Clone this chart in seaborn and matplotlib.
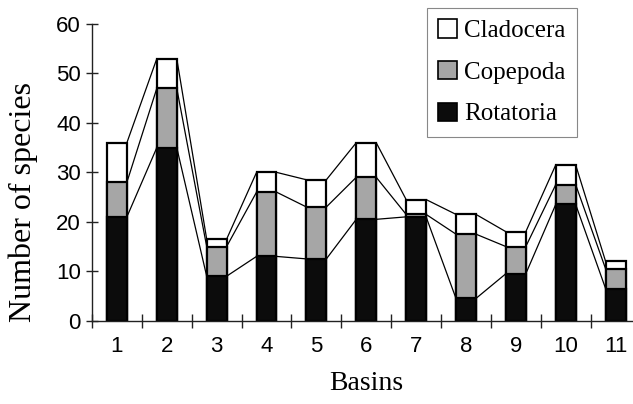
import matplotlib
matplotlib.use("Agg")
import matplotlib.pyplot as plt
from matplotlib.patches import Patch
import seaborn as sns
import pandas as pd
import numpy as np

basins = ["1", "2", "3", "4", "5", "6", "7", "8", "9", "10", "11"]
rotatoria = [21, 35, 9, 13, 12.5, 20.5, 21, 4.5, 9.5, 23.5, 6.5]
copepoda = [7, 12, 6, 13, 10.5, 8.5, 0.5, 13, 5.5, 4, 4]
cladocera = [8, 6, 1.5, 4, 5.5, 7, 3, 4, 3, 4, 1.5]
series_names = ["Cladocera", "Copepoda", "Rotatoria"]
series_colors = ["#ffffff", "#a6a6a6", "#0c0c0c"]
y_ticks = [0, 10, 20, 30, 40, 50, 60]

sns.set_style("white")
plt.rcParams["font.family"] = ["Liberation Sans", "DejaVu Sans"]
plt.rcParams["text.color"] = "black"
plt.rcParams["axes.labelcolor"] = "black"
plt.rcParams["xtick.color"] = "black"
plt.rcParams["ytick.color"] = "black"

df = pd.DataFrame({"Basin": basins, "Rotatoria": rotatoria,
                   "Copepoda": copepoda, "Cladocera": cladocera})
df["top_ro"] = df["Rotatoria"]
df["top_co"] = df["Rotatoria"] + df["Copepoda"]
df["top_cl"] = df["top_co"] + df["Cladocera"]

fig = plt.figure(figsize=(6.33, 4.04), dpi=100)
W, H = 633, 404
x0, y0, y60 = 92, 320.7, 24
ax = fig.add_axes([x0 / W, (H - y0) / H, 548.5 / W, (y0 - y60) / H])

bw = 0.4
layers = [("top_cl", series_colors[0]), ("top_co", series_colors[1]), ("top_ro", series_colors[2])]
for col, c in layers:
    sns.barplot(data=df, x="Basin", y=col, order=basins, color=c, width=bw,
                edgecolor="black", linewidth=1.6, saturation=1, errorbar=None, ax=ax)

# series lines between bar tops
xs = np.arange(len(basins))
for col, _ in layers:
    tops = df[col].to_numpy()
    for i in range(len(basins) - 1):
        ax.plot([xs[i] + bw / 2, xs[i + 1] - bw / 2], [tops[i], tops[i + 1]],
                color="black", lw=0.9, zorder=1)

ax.set_xlim(-0.5, len(basins) - 0.5)
ax.set_ylim(0, 60)
ax.set_yticks(y_ticks)
ax.set_yticklabels([str(t) for t in y_ticks], fontsize=16)
ax.set_xticks(xs)
ax.set_xticklabels(basins, fontsize=16)
ax.set_xticks(np.arange(len(basins) + 1) - 0.5, minor=True)
ax.tick_params(axis="x", which="both", bottom=True)
ax.tick_params(axis="y", which="major", left=True)
ax.tick_params(axis="x", which="major", length=0, pad=11)
ax.tick_params(axis="x", which="minor", direction="inout", length=10, width=1, color="#222222")
ax.tick_params(axis="y", which="major", direction="inout", length=8, width=1, pad=4, color="#222222")

for s in ["top", "right"]:
    ax.spines[s].set_visible(False)
for s in ["left", "bottom"]:
    ax.spines[s].set_color("#222222")
    ax.spines[s].set_linewidth(1.0)

ax.set_xlabel("Basins", fontsize=20, family=["Liberation Serif", "DejaVu Serif"])
ax.set_ylabel("Number of species", fontsize=23, family=["Liberation Serif", "DejaVu Serif"])
ax.xaxis.set_label_coords(0.5, -0.17)
ax.yaxis.set_label_coords(-0.098, 0.40)

handles = [Patch(facecolor=series_colors[i], edgecolor="black", linewidth=1.2, label=series_names[i])
           for i in range(3)]
leg = fig.legend(handles=handles, loc="upper right", bbox_to_anchor=(577 / W, (H - 8) / H),
                 frameon=True, fancybox=False, framealpha=1, edgecolor="#888888",
                 prop={"family": ["Liberation Serif", "DejaVu Serif"], "size": 18},
                 labelspacing=0.75, handlelength=0.75, handleheight=0.75, handletextpad=0.3,
                 borderpad=0.45, borderaxespad=0)
leg.get_frame().set_linewidth(0.8)

fig.savefig("out.png", dpi=100)
